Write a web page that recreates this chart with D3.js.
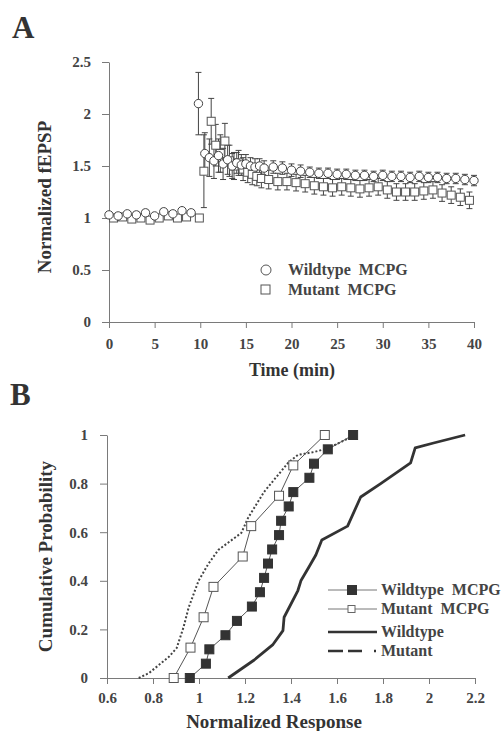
<!DOCTYPE html>
<html>
<head>
<meta charset="utf-8">
<script src="https://cdn.jsdelivr.net/npm/d3@7"></script>
<style>
  body { margin: 0; background: #fff; }
  svg { display: block; font-family: "Liberation Serif", "DejaVu Serif", serif; }
</style>
</head>
<body>
<svg id="chart"></svg>
<script>
const svgWidth = 502;
const svgHeight = 731;

// ---- Panel A: normalized fEPSP over time ----
const wtTimes = [0,1,2,3,4,5,6,7,8,9, 9.8,
  10.5,11,11.5,12,12.5,13,13.5,14,14.5,15,15.5,16,16.5,17,
  18,19,20,21,22,23,24,25,26,27,28,29,30,31,32,33,34,35,36,37,38,39,40];
const wtValues = [1.03,1.02,1.04,1.03,1.05,1.02,1.06,1.04,1.07,1.05, 2.10,
  1.62,1.58,1.55,1.60,1.52,1.56,1.50,1.53,1.51,1.52,1.50,1.49,1.50,1.48,
  1.49,1.48,1.46,1.45,1.44,1.43,1.43,1.42,1.42,1.41,1.41,1.40,1.41,1.40,1.40,1.39,1.40,1.39,1.39,1.38,1.38,1.37,1.36];
const wtErrors = [0.03,0.03,0.02,0.03,0.03,0.02,0.03,0.03,0.03,0.03, 0.30,
  0.20,0.18,0.17,0.16,0.15,0.14,0.12,0.10,0.10,0.09,0.08,0.08,0.07,0.07,
  0.06,0.06,0.06,0.06,0.05,0.05,0.05,0.05,0.05,0.05,0.05,0.05,0.05,0.05,0.05,0.05,0.05,0.05,0.05,0.05,0.05,0.05,0.05];

const mutTimes = [0.5,1.5,2.5,3.5,4.5,5.5,6.5,7.5,8.5,9.9,
  10.4,11.2,11.7,12.2,12.7,13.2,13.7,14.2,14.7,15.2,15.7,16.2,16.7,17.5,
  18.5,19.5,20.5,21.5,22.5,23.5,24.5,25.5,26.5,27.5,28.5,29.5,30.5,31.5,32.5,33.5,34.5,35.5,36.5,37.5,38.5,39.5];
const mutValues = [1.00,1.01,0.99,1.00,0.98,1.00,1.02,1.00,1.01,1.00,
  1.45,1.93,1.70,1.62,1.74,1.55,1.50,1.53,1.47,1.44,1.42,1.40,1.38,1.37,
  1.35,1.35,1.34,1.33,1.31,1.30,1.29,1.30,1.29,1.28,1.29,1.30,1.27,1.25,1.25,1.25,1.26,1.27,1.24,1.22,1.20,1.17];
const mutErrors = [0.03,0.03,0.03,0.03,0.03,0.03,0.03,0.03,0.03,0.03,
  0.35,0.22,0.20,0.18,0.17,0.15,0.13,0.12,0.11,0.10,0.10,0.09,0.09,0.09,
  0.08,0.08,0.08,0.08,0.08,0.08,0.08,0.08,0.08,0.08,0.08,0.08,0.08,0.08,0.08,0.08,0.08,0.08,0.08,0.08,0.08,0.08];

const aXTicks = [0,5,10,15,20,25,30,35,40];
const aYTicks = [0,0.5,1,1.5,2,2.5];
const aYTickLabels = ["0","0.5","1","1.5","2","2.5"];
const aLegend = ["Wildtype  MCPG", "Mutant  MCPG"];

// ---- Panel B: cumulative probability ----
const wtMcpgX = [0.96,1.03,1.045,1.115,1.165,1.23,1.265,1.283,1.30,1.318,1.348,1.357,1.39,1.41,1.48,1.50,1.56,1.67];
const wtMcpgP = [0,0.059,0.118,0.176,0.235,0.294,0.353,0.412,0.471,0.529,0.588,0.647,0.706,0.765,0.824,0.882,0.941,1];

const mutMcpgX = [0.89,0.963,1.02,1.063,1.19,1.227,1.348,1.41,1.547];
const mutMcpgP = [0,0.125,0.25,0.375,0.5,0.625,0.75,0.875,1];

const wtCtrlX = [1.127,1.24,1.32,1.365,1.37,1.43,1.443,1.478,1.508,1.534,1.646,1.703,1.79,1.92,1.94,2.02,2.157];
const wtCtrlP = [0,0.074,0.136,0.195,0.25,0.36,0.40,0.457,0.506,0.568,0.625,0.745,0.80,0.885,0.947,0.967,1.0];

const mutCtrlX = [0.738,0.782,0.868,0.903,0.933,0.955,0.998,1.041,1.084,1.184,1.214,1.283,1.387,1.43,1.50,1.56,1.68];
const mutCtrlP = [0,0.02,0.086,0.123,0.21,0.29,0.40,0.47,0.527,0.597,0.66,0.766,0.885,0.918,0.93,0.945,1.0];

const bXTicks = [0.6,0.8,1,1.2,1.4,1.6,1.8,2,2.2];
const bXTickLabels = ["0.6","0.8","1","1.2","1.4","1.6","1.8","2","2.2"];
const bYTicks = [0,0.2,0.4,0.6,0.8,1];
const bYTickLabels = ["0","0.2","0.4","0.6","0.8","1"];
const bLegend = ["Wildtype  MCPG", "Mutant  MCPG", "Wildtype", "Mutant"];

const axisColor = "#7a7a7a";
const inkColor = "#333";
const labelColor = "#444";
const serif = "Liberation Serif, DejaVu Serif, serif";

const svg = d3.select("#chart")
  .attr("width", svgWidth)
  .attr("height", svgHeight);

const styleAxis = (g) => {
  g.attr("font-family", serif).attr("font-size", 15);
  g.select(".domain").attr("stroke", axisColor);
  g.selectAll(".tick line").attr("stroke", axisColor);
  g.selectAll(".tick text")
    .attr("fill", labelColor)
    .attr("font-weight", "bold")
    .style("font-family", serif);
};

// ======================= Panel A =======================
const xA = d3.scaleLinear().domain([0, 40]).range([109, 474]);
const yA = d3.scaleLinear().domain([0, 2.5]).range([322, 62]);

svg.append("text")
  .attr("x", 12).attr("y", 38)
  .attr("font-size", 31).attr("font-weight", "bold")
  .attr("fill", "#333")
  .text("A");

svg.append("g")
  .attr("transform", "translate(0," + yA(0) + ")")
  .call(d3.axisBottom(xA).tickValues(aXTicks).tickSize(6).tickSizeOuter(0).tickPadding(10))
  .call(styleAxis);

svg.append("g")
  .attr("transform", "translate(" + xA(0) + ",0)")
  .call(d3.axisLeft(yA).tickValues(aYTicks).tickSize(7).tickSizeOuter(0).tickPadding(11)
    .tickFormat((d, i) => aYTickLabels[i]))
  .call(styleAxis);

svg.append("text")
  .attr("transform", "translate(51," + ((yA(0) + yA(2.5)) / 2 + 5) + ") rotate(-90)")
  .attr("text-anchor", "middle")
  .attr("font-size", 19).attr("font-weight", "bold").attr("fill", inkColor)
  .text("Normalized fEPSP");

svg.append("text")
  .attr("x", 292).attr("y", 376)
  .attr("text-anchor", "middle")
  .attr("font-size", 18).attr("font-weight", "bold").attr("fill", inkColor)
  .text("Time (min)");

const wtA = wtTimes.map((t, i) => ({ t: t, v: wtValues[i], e: wtErrors[i] }));
const mutA = mutTimes.map((t, i) => ({ t: t, v: mutValues[i], e: mutErrors[i] }));

const drawErrorBars = (data, cls) => {
  const g = svg.append("g").attr("class", cls).attr("stroke", "#444").attr("stroke-width", 1);
  g.selectAll("line.v").data(data).join("line")
    .attr("class", "v")
    .attr("x1", d => xA(d.t)).attr("x2", d => xA(d.t))
    .attr("y1", d => yA(d.v - d.e)).attr("y2", d => yA(d.v + d.e));
  g.selectAll("line.lo").data(data).join("line")
    .attr("class", "lo")
    .attr("x1", d => xA(d.t) - 3).attr("x2", d => xA(d.t) + 3)
    .attr("y1", d => yA(d.v - d.e)).attr("y2", d => yA(d.v - d.e));
  g.selectAll("line.hi").data(data).join("line")
    .attr("class", "hi")
    .attr("x1", d => xA(d.t) - 3).attr("x2", d => xA(d.t) + 3)
    .attr("y1", d => yA(d.v + d.e)).attr("y2", d => yA(d.v + d.e));
};

drawErrorBars(mutA, "mut-err");
drawErrorBars(wtA, "wt-err");

svg.append("g").selectAll("rect").data(mutA).join("rect")
  .attr("x", d => xA(d.t) - 4).attr("y", d => yA(d.v) - 4)
  .attr("width", 8).attr("height", 8)
  .attr("fill", "#fff").attr("stroke", "#555").attr("stroke-width", 1);

svg.append("g").selectAll("circle").data(wtA).join("circle")
  .attr("cx", d => xA(d.t)).attr("cy", d => yA(d.v))
  .attr("r", 4.2)
  .attr("fill", "#fff").attr("stroke", "#444").attr("stroke-width", 1);

// legend A
const legA = svg.append("g");
legA.append("circle").attr("cx", 266).attr("cy", 270).attr("r", 5)
  .attr("fill", "none").attr("stroke", "#555");
legA.append("rect").attr("x", 261).attr("y", 285).attr("width", 9).attr("height", 9)
  .attr("fill", "none").attr("stroke", "#555");
legA.selectAll("text").data(aLegend).join("text")
  .attr("x", 288).attr("y", (d, i) => 275 + i * 20)
  .attr("font-size", 16).attr("font-weight", "bold").attr("fill", labelColor)
  .style("white-space", "pre")
  .text(d => d);

// ======================= Panel B =======================
const xB = d3.scaleLinear().domain([0.6, 2.2]).range([107, 475]);
const yB = d3.scaleLinear().domain([0, 1]).range([678, 435]);

svg.append("text")
  .attr("x", 10).attr("y", 405)
  .attr("font-size", 31).attr("font-weight", "bold")
  .attr("fill", "#333")
  .text("B");

svg.append("g")
  .attr("transform", "translate(0," + yB(0) + ")")
  .call(d3.axisBottom(xB).tickValues(bXTicks).tickSize(6).tickSizeOuter(0).tickPadding(8)
    .tickFormat((d, i) => bXTickLabels[i]))
  .call(styleAxis);

svg.append("g")
  .attr("transform", "translate(" + xB(0.6) + ",0)")
  .call(d3.axisLeft(yB).tickValues(bYTicks).tickSize(7).tickSizeOuter(0).tickPadding(12)
    .tickFormat((d, i) => bYTickLabels[i]))
  .call(styleAxis);

svg.append("text")
  .attr("transform", "translate(52," + ((yB(0) + yB(1)) / 2) + ") rotate(-90)")
  .attr("text-anchor", "middle")
  .attr("font-size", 19).attr("font-weight", "bold").attr("fill", inkColor)
  .text("Cumulative Probability");

svg.append("text")
  .attr("x", 274).attr("y", 728)
  .attr("text-anchor", "middle")
  .attr("font-size", 19).attr("font-weight", "bold").attr("fill", inkColor)
  .text("Normalized Response");

const line = d3.line().x(d => xB(d.x)).y(d => yB(d.p));

const wtCtrl = wtCtrlX.map((x, i) => ({ x: x, p: wtCtrlP[i] }));
const mutCtrl = mutCtrlX.map((x, i) => ({ x: x, p: mutCtrlP[i] }));
const wtMcpg = wtMcpgX.map((x, i) => ({ x: x, p: wtMcpgP[i] }));
const mutMcpg = mutMcpgX.map((x, i) => ({ x: x, p: mutMcpgP[i] }));

svg.append("path").datum(wtCtrl)
  .attr("fill", "none").attr("stroke", "#333").attr("stroke-width", 2.8)
  .attr("stroke-linejoin", "round")
  .attr("d", line);

svg.append("path").datum(mutCtrl)
  .attr("fill", "none").attr("stroke", "#444").attr("stroke-width", 2)
  .attr("stroke-dasharray", "2,2")
  .attr("d", line);

svg.append("path").datum(mutMcpg)
  .attr("fill", "none").attr("stroke", "#555").attr("stroke-width", 1)
  .attr("d", line);

svg.append("path").datum(wtMcpg)
  .attr("fill", "none").attr("stroke", "#555").attr("stroke-width", 1)
  .attr("d", line);

svg.append("g").selectAll("rect").data(mutMcpg).join("rect")
  .attr("x", d => xB(d.x) - 4.5).attr("y", d => yB(d.p) - 4.5)
  .attr("width", 9).attr("height", 9)
  .attr("fill", "#fff").attr("stroke", "#555").attr("stroke-width", 1);

svg.append("g").selectAll("rect").data(wtMcpg).join("rect")
  .attr("x", d => xB(d.x) - 4.5).attr("y", d => yB(d.p) - 4.5)
  .attr("width", 9).attr("height", 9)
  .attr("fill", "#333").attr("stroke", "#333").attr("stroke-width", 1);

// legend B
const legB = svg.append("g");
const legRowsY = [590, 609, 632, 651];
legB.append("line").attr("x1", 328).attr("x2", 377).attr("y1", legRowsY[0]).attr("y2", legRowsY[0])
  .attr("stroke", "#777").attr("stroke-width", 1);
legB.append("rect").attr("x", 347).attr("y", legRowsY[0] - 5).attr("width", 10).attr("height", 10)
  .attr("fill", "#333");
legB.append("line").attr("x1", 328).attr("x2", 377).attr("y1", legRowsY[1]).attr("y2", legRowsY[1])
  .attr("stroke", "#777").attr("stroke-width", 1);
legB.append("rect").attr("x", 348).attr("y", legRowsY[1] - 3.5).attr("width", 7).attr("height", 7)
  .attr("fill", "#fff").attr("stroke", "#666");
legB.append("line").attr("x1", 328).attr("x2", 377).attr("y1", legRowsY[2]).attr("y2", legRowsY[2])
  .attr("stroke", "#333").attr("stroke-width", 2.5);
legB.append("line").attr("x1", 328).attr("x2", 378).attr("y1", legRowsY[3]).attr("y2", legRowsY[3])
  .attr("stroke", "#333").attr("stroke-width", 2.5).attr("stroke-dasharray", "15,5,14,12,2,20");
legB.selectAll("text").data(bLegend).join("text")
  .attr("x", 381).attr("y", (d, i) => legRowsY[i] + 5)
  .attr("font-size", 16).attr("font-weight", "bold").attr("fill", labelColor)
  .style("white-space", "pre")
  .text(d => d);
</script>
</body>
</html>
